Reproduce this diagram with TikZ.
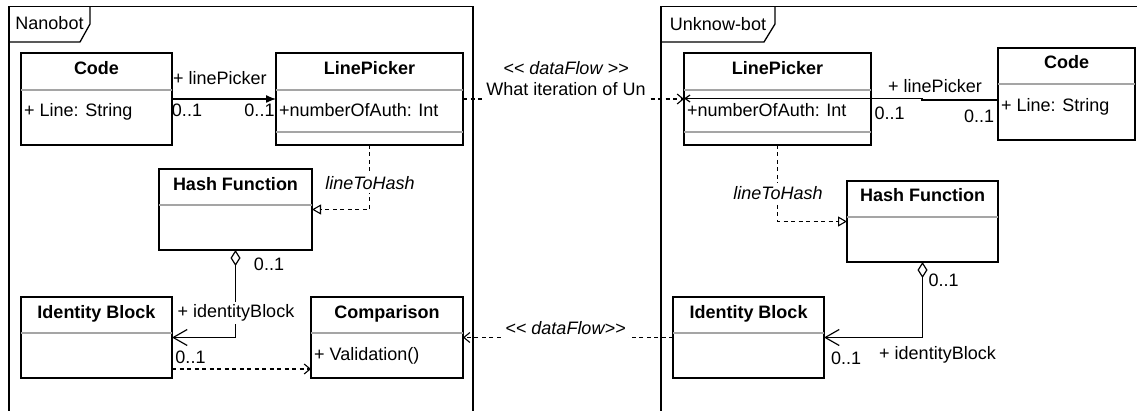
\documentclass[tikz,border=0pt]{standalone}
\usepackage{fontspec}
\setmainfont{Liberation Sans}
\usetikzlibrary{arrows.meta}

\definecolor{divgray}{RGB}{165,165,165}

\tikzset{
  frame/.style={draw=black, line width=1.3pt},
  box/.style={draw=black, line width=1.3pt, fill=white, rectangle, inner sep=0pt, outer sep=0pt},
  divider/.style={draw=divgray, line width=2pt},
  ctitle/.style={font=\fontsize{18}{21}\selectfont\bfseries, inner sep=0pt},
  attr/.style={inner sep=0pt, anchor=base west},
  lbl/.style={inner sep=0pt},
  wlbl/.style={fill=white, inner sep=3pt},
  conn/.style={draw=black, line width=1.3pt},
  dashline/.style={line width=1.1pt, dash pattern=on 4pt off 3.5pt},
  flow/.style={conn, dashline, -{Straight Barb[length=6pt,width=10pt,line width=1.1pt]}},
  realize/.style={conn, dashline, -{Triangle[open,length=9pt,width=10pt,line width=1.1pt,fill=white]}},
  navfill/.style={conn, -{Latex[length=10pt,width=8pt]}},
  navbarb/.style={conn, -{Straight Barb[length=5pt,width=7pt,line width=1.2pt]}},
  aggr/.style={conn, {Diamond[open,length=16pt,width=10pt,line width=1.2pt,fill=white]}-{Straight Barb[length=14pt,width=16pt,line width=1.2pt]}},
}

% class box: name, x1, y1, x2, y2, title, title baseline offset
\newcommand{\classbox}[7]{%
  \node[box, anchor=north west, minimum width={(#4)-(#2)}, minimum height={(#5)-(#3)}] (#1) at (#2,#3) {};
  \node[ctitle, anchor=base] (#1-t) at ({(#2+#4)/2},{#3+#7}) {#6};
}

\begin{document}
\begin{tikzpicture}[x=1pt, y=-1pt, font=\fontsize{18}{21}\selectfont]
\useasboundingbox (0,0) rectangle (1137,411);
\clip (0,0) rectangle (1137,411);
\fill[white] (0,0) rectangle (1137,411);

% ---- frames ----
\draw[frame] (9,440) -- (9,6.5) -- (473,6.5) -- (473,440);
\draw[frame] (9,42) -- (80,42) -- (90,24) -- (90,6.5);
\node[lbl] (nanoLbl) at (49.5,23) {Nanobot};

\draw[frame] (661,440) -- (661,6.5) -- (1160,6.5);
\draw[frame] (661,42) -- (764,42) -- (775,24) -- (775,6.5);
\node[lbl] (unkLbl) at (718,24) {Unknow-bot};

% ---- Nanobot classes ----
\classbox{codeL}{21}{53}{172}{145}{Code}{21.5}
\draw[divider] (21,90) -- (172,90);
\node[attr] (codeL-a) at (24,117) {+ Line: String};

\classbox{lpL}{276}{53}{463}{145}{LinePicker}{21.5}
\draw[divider] (276,90) -- (463,90);
\draw[divider] (276,132) -- (463,132);
\node[attr] (lpL-a) at (279,117) {+numberOfAuth: Int};

\classbox{hashL}{159}{169}{312}{250}{Hash Function}{21.5}
\draw[divider] (159,205) -- (312,205);

\classbox{idL}{21}{297}{172}{378}{Identity Block}{21.5}
\draw[divider] (21,333) -- (172,333);

\classbox{cmpL}{311}{297}{463}{378}{Comparison}{21.5}
\draw[divider] (311,333) -- (463,333);
\node[attr] (cmpL-a) at (314,360) {+ Validation()};

% ---- Unknow-bot classes ----
\classbox{lpR}{684}{53}{871}{145}{LinePicker}{21.5}
\draw[divider] (684,90) -- (871,90);
\draw[divider] (684,132) -- (871,132);
\node[attr] (lpR-a) at (687,117) {+numberOfAuth: Int};

\classbox{codeR}{998}{48}{1135}{140}{Code}{21}
\draw[divider] (998,84) -- (1135,84);
\node[attr] (codeR-a) at (1001,112) {+ Line: String};

\classbox{hashR}{847}{181}{998}{262}{Hash Function}{20.5}
\draw[divider] (847,217) -- (998,217);

\classbox{idR}{673}{297}{824}{378}{Identity Block}{21.5}
\draw[divider] (673,333) -- (824,333);

% ---- Nanobot connectors ----
\draw[navfill] (codeL.east) -- (lpL.west);
\node[lbl] (lpickL) at (220,78) {+ linePicker};
\node[lbl] (mCodeL) at (187,110) {0..1};
\node[lbl] (mLpL) at (259.5,110) {0..1};

\draw[realize] (lpL.south) |- (hashL.east);
\node[wlbl, font=\fontsize{18}{21}\selectfont\itshape] (l2hL) at (370,183) {lineToHash};

\draw[aggr] (hashL.south) |- (idL.east);
\node[lbl] (mHashL) at (269,264) {0..1};
\node[wlbl] (idbL) at (236,313) {+ identityBlock};
\node[lbl] (mIdL) at (190.5,357) {0..1};

\draw[flow] ([yshift=-31.5pt]idL.east) -- ([yshift=-31.5pt]cmpL.west);

% ---- Unknow-bot connectors ----
\coordinate (jogR) at (922,98.5);
\draw[navbarb] ([yshift=-6pt]codeR.west) -- (922,100) -- (jogR) -- (lpR.west |- jogR);
\node[lbl] (lpickR) at (935,86) {+ linePicker};
\node[lbl] (mLpR) at (889.5,113) {0..1};
\node[lbl] (mCodeR) at (979,116) {0..1};

\draw[realize] (lpR.south) |- (hashR.west);
\node[wlbl, font=\fontsize{18}{21}\selectfont\itshape] (l2hR) at (778,193) {lineToHash};

\draw[aggr] (hashR.south) |- (idR.east);
\node[lbl] (mHashR) at (943.5,280) {0..1};
\node[lbl] (mIdR) at (846,358) {0..1};
\node[lbl] (idbR) at (937.5,355) {+ identityBlock};

% ---- data flows between the bots ----
\draw[flow] (lpL.east) -- (lpR.west);
\node[wlbl, align=center, inner xsep=2pt, inner ysep=4pt] (dfTop) at (566,79)
  {\textit{<{}< dataFlow >{}>}\\What iteration of Un};

\draw[flow] (idR.west) -- (cmpL.east);
\node[wlbl, inner xsep=2pt, inner ysep=6pt, font=\fontsize{18}{21}\selectfont\itshape] (dfBot) at (565.5,328) {<{}< dataFlow>{}>};

\end{tikzpicture}
\end{document}
